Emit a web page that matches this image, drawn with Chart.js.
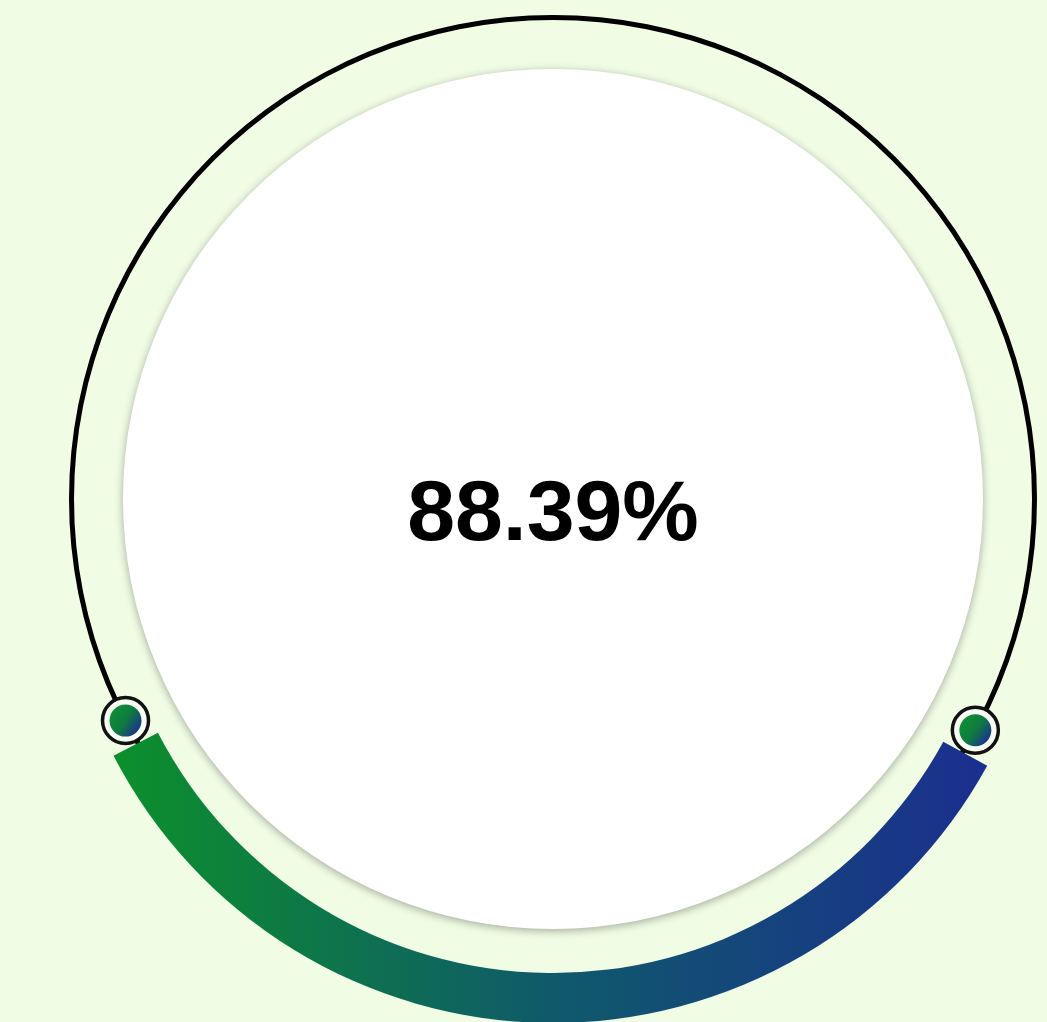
<!DOCTYPE html>
<html>
<head>
<meta charset="utf-8">
<script src="https://cdn.jsdelivr.net/npm/chart.js@4.4.1/dist/chart.umd.min.js"></script>
<style>
  html, body { margin: 0; padding: 0; width: 1047px; height: 1022px; overflow: hidden; background: #f0fce4; }
  #wrap { position: relative; width: 1047px; height: 1022px; }
  #ring { position: absolute; left: 69px; top: 15px; }
  #gauge { position: absolute; left: 58px; top: 33px; }
</style>
</head>
<body>
<div id="wrap">
  <canvas id="ring" width="968" height="968"></canvas>
  <canvas id="gauge" width="990" height="990"></canvas>
</div>
<script>
// ---- data ----
const valuePercent = 88.39;                       // value shown in the centre
const centerLabels = [valuePercent.toFixed(2) + '%'];
const gaugeSegments = [123.9, 236.1];             // degrees: coloured arc, hidden remainder
const gaugeRotation = 118.7;                      // start of coloured arc (deg, 0 = top)
const ringLayers = [1, 1, 1];                     // black track, gap, white face

// ---- background ring + white face + markers + label ----
const faceShadow = {
  id: 'faceShadow',
  beforeDatasetDraw(chart, args) {
    if (args.index === 2) {
      const c = chart.ctx;
      c.save();
      c.shadowColor = 'rgba(0,0,0,0.32)';
      c.shadowBlur = 9;
      c.shadowOffsetY = 2;
    }
  },
  afterDatasetDraw(chart, args) {
    if (args.index === 2) chart.ctx.restore();
  }
};

const markersAndLabel = {
  id: 'markersAndLabel',
  afterDatasetsDraw(chart) {
    const c = chart.ctx;
    const arc = chart.getDatasetMeta(0).data[0];
    const cx = arc.x, cy = arc.y;
    const r = (arc.outerRadius + arc.innerRadius) / 2;
    const ends = [gaugeRotation, gaugeRotation + gaugeSegments[0]];
    ends.forEach(deg => {
      const a = (deg - 90) * Math.PI / 180;
      const x = cx + r * Math.cos(a), y = cy + r * Math.sin(a);
      c.save();
      c.beginPath();
      c.arc(x, y, 23, 0, Math.PI * 2);
      c.fillStyle = '#f7fdf2';
      c.fill();
      c.lineWidth = 3.5;
      c.strokeStyle = '#111';
      c.stroke();
      const g = c.createLinearGradient(x - 14, y - 10, x + 14, y + 10);
      g.addColorStop(0, '#0e8f34');
      g.addColorStop(0.5, '#0f7a40');
      g.addColorStop(1, '#1b2f94');
      c.beginPath();
      c.arc(x, y, 16, 0, Math.PI * 2);
      c.fillStyle = g;
      c.fill();
      c.restore();
    });
    c.save();
    c.fillStyle = '#000';
    c.font = 'bold 86px "Liberation Sans", Arial, sans-serif';
    c.textAlign = 'center';
    c.textBaseline = 'alphabetic';
    c.fillText(centerLabels[0], cx, cy + 41);
    c.restore();
  }
};

new Chart(document.getElementById('ring'), {
  type: 'doughnut',
  data: {
    labels: ['track'],
    datasets: [
      { data: [ringLayers[0]], backgroundColor: '#000000', weight: 5 },
      { data: [ringLayers[1]], backgroundColor: 'rgba(0,0,0,0)', weight: 49 },
      { data: [ringLayers[2]], backgroundColor: '#ffffff', weight: 430 }
    ]
  },
  options: {
    responsive: false,
    animation: false,
    events: [],
    cutout: 0,
    layout: { padding: 0 },
    elements: { arc: { borderWidth: 0, hoverOffset: 0, offset: 0 } },
    plugins: { legend: { display: false }, tooltip: { enabled: false } }
  },
  plugins: [faceShadow, markersAndLabel]
});

// ---- coloured gauge arc ----
new Chart(document.getElementById('gauge'), {
  type: 'doughnut',
  data: {
    labels: ['value', 'rest'],
    datasets: [{
      data: gaugeSegments,
      backgroundColor: (ctx) => {
        if (ctx.dataIndex !== 0) return 'rgba(0,0,0,0)';
        const chart = ctx.chart;
        const area = chart.chartArea;
        if (!area) return '#0f5c66';
        const w = area.right - area.left;
        const g = chart.ctx.createLinearGradient(area.left + w * 0.06, 0, area.left + w * 0.93, 0);
        g.addColorStop(0, '#0c8f2c');
        g.addColorStop(0.5, '#0f5a6a');
        g.addColorStop(1, '#1b2f8e');
        return g;
      },
      borderWidth: 0
    }]
  },
  options: {
    responsive: false,
    animation: false,
    events: [],
    rotation: gaugeRotation,
    circumference: 360,
    cutout: 445,
    layout: { padding: 0 },
    elements: { arc: { borderWidth: 0, hoverOffset: 0, offset: 0 } },
    plugins: { legend: { display: false }, tooltip: { enabled: false } }
  }
});
</script>
</body>
</html>
